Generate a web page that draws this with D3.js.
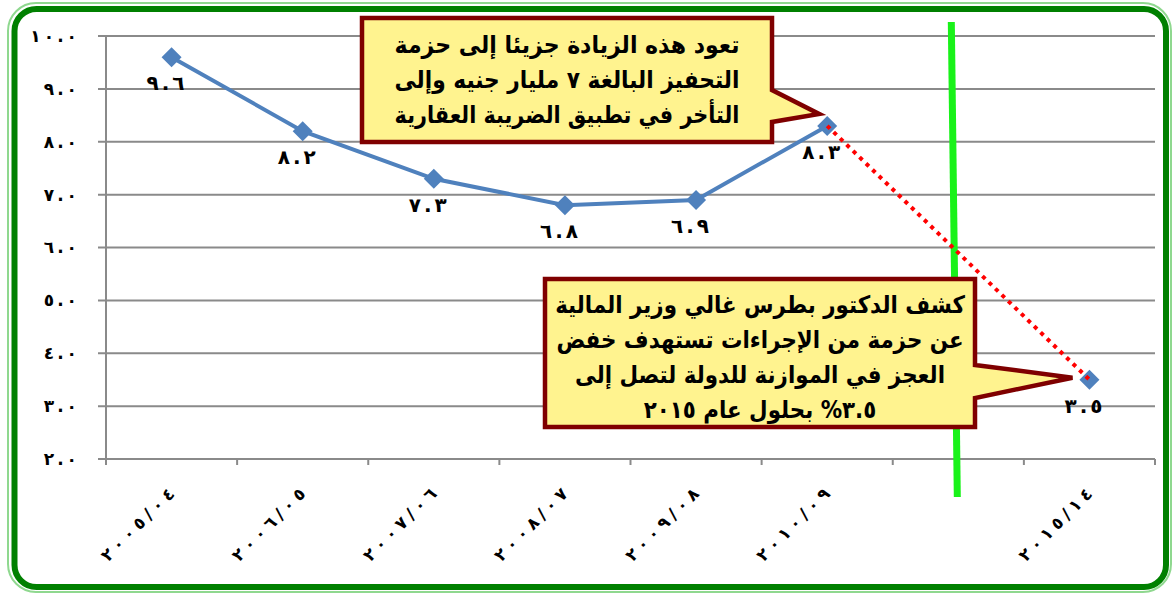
<!DOCTYPE html>
<html>
<head>
<meta charset="utf-8">
<script src="https://cdn.jsdelivr.net/npm/d3@7"></script>
<style>
  html, body { margin: 0; padding: 0; background: #fff; }
  svg { display: block; font-family: "DejaVu Sans", sans-serif; font-weight: bold; }
</style>
</head>
<body>
<svg id="chart" width="1174" height="595"></svg>
<script>
// ====
// DATA
// ====

// fiscal years, the 7th slot is an empty gap before the 2015 target
const categories = ["2005/04", "2006/05", "2007/06", "2008/07", "2009/08", "2010/09", "", "2015/14"];
const deficit = [9.6, 8.2, 7.3, 6.8, 6.9, 8.3, null, 3.5];

// dotted projection from the last actual year to the target
const projCategories = ["2010/09", "2015/14"];
const projValues = [8.3, 3.5];

const yTicks = [2, 3, 4, 5, 6, 7, 8, 9, 10];

const note1 = [
  "تعود هذه الزيادة جزيئا إلى حزمة",
  "التحفيز البالغة ٧ مليار جنيه وإلى",
  "التأخر في تطبيق الضريبة العقارية"
];
const note2 = [
  "كشف الدكتور بطرس غالي وزير المالية",
  "عن حزمة من الإجراءات تستهدف خفض",
  "العجز في الموازنة للدولة لتصل إلى",
  "٣.٥% بحلول عام ٢٠١٥"
];

// western -> arabic-indic digits
const AR = "٠١٢٣٤٥٦٧٨٩";
function ar(s) {
  return String(s).replace(/[0-9]/g, d => AR[+d]);
}

// letter-spacing is ignored for arabic digits, so spread them with dx
function spread(s, gap) {
  return Array.from(s).map((ch, i) => (i === 0 ? 0 : gap)).join(" ");
}

// =====
// SETUP
// =====

const svg = d3.select("#chart");

const x = d3.scaleBand().domain(categories).range([106, 1155]);
const y = d3.scaleLinear().domain([2, 10]).range([459, 36]);
const cx = c => x(c) + x.bandwidth() / 2;

// frame: thin light line outside, thick green inside
svg.append("rect")
  .attr("x", 8).attr("y", 3).attr("width", 1163).attr("height", 589)
  .attr("rx", 28).attr("ry", 28)
  .style("fill", "none").style("stroke", "#8fd88f").style("stroke-width", 2);
svg.append("rect")
  .attr("x", 14.5).attr("y", 9).attr("width", 1151.5).attr("height", 578)
  .attr("rx", 22).attr("ry", 22)
  .style("fill", "#fff").style("stroke", "#008000").style("stroke-width", 6);

// ===========
// GRID / AXES
// ===========

const grid = svg.append("g");
grid.selectAll("line")
  .data(yTicks)
  .enter()
  .append("line")
  .attr("x1", 98).attr("x2", 1155)
  .attr("y1", d => y(d)).attr("y2", d => y(d))
  .style("stroke", "#8a8a8a").style("stroke-width", 2);

const yAxis = svg.append("g")
  .attr("transform", "translate(106,0)")
  .call(d3.axisLeft(y).tickValues(yTicks).tickSize(0).tickPadding(29)
    .tickFormat(d => ar(d.toFixed(1))));
yAxis.select(".domain").remove();
yAxis.selectAll("text")
  .attr("dx", function () { return spread(this.textContent, 3); })
  .style("font-family", "DejaVu Sans").style("font-weight", "bold")
  .style("font-size", "17px").style("fill", "#000");

svg.append("line")
  .attr("x1", 106).attr("x2", 106)
  .attr("y1", y(10)).attr("y2", y(2) + 4)
  .style("stroke", "#8a8a8a").style("stroke-width", 2);

// x ticks sit on band boundaries
const bounds = categories.map(c => x(c)).concat([x.range()[1]]);
svg.append("g").selectAll("line")
  .data(bounds)
  .enter()
  .append("line")
  .attr("x1", d => d).attr("x2", d => d)
  .attr("y1", y(2)).attr("y2", y(2) + 6)
  .style("stroke", "#8a8a8a").style("stroke-width", 2);

svg.append("g").selectAll("text")
  .data(categories.filter(c => c !== ""))
  .enter()
  .append("text")
  .attr("transform", d => "translate(" + (cx(d) + 4) + "," + (y(2) + 36) + ") rotate(-45)")
  .attr("text-anchor", "end")
  .attr("dx", d => spread(ar(d), 4.5))
  .style("font-size", "17px")
  .text(d => ar(d));

// green divider between actuals and target
const gapX = cx("");
svg.append("line")
  .attr("x1", gapX - 7).attr("y1", y(10) - 14)
  .attr("x2", gapX - 1).attr("y2", y(2) + 38)
  .style("stroke", "#19f219").style("stroke-width", 7);

// =====
// LINES
// =====

const points = categories.map((c, i) => ({ c: c, v: deficit[i] }));

svg.append("path")
  .datum(points)
  .attr("d", d3.line().defined(d => d.v != null).x(d => cx(d.c)).y(d => y(d.v)))
  .style("fill", "none").style("stroke", "#4f81bd").style("stroke-width", 4);

svg.append("g").selectAll("path")
  .data(points.filter(d => d.v != null))
  .enter()
  .append("path")
  .attr("transform", d => "translate(" + cx(d.c) + "," + y(d.v) + ") rotate(45)")
  .attr("d", d3.symbol().type(d3.symbolSquare).size(200))
  .style("fill", "#4f81bd");

svg.append("path")
  .datum(projCategories.map((c, i) => ({ c: c, v: projValues[i] })))
  .attr("d", d3.line().x(d => cx(d.c)).y(d => y(d.v)))
  .style("fill", "none").style("stroke", "#ff0000")
  .style("stroke-width", 4).style("stroke-dasharray", "4,5");

svg.append("g").selectAll("text")
  .data(points.filter(d => d.v != null))
  .enter()
  .append("text")
  .attr("x", d => cx(d.c) - 6)
  .attr("y", d => y(d.v) + 33)
  .attr("text-anchor", "middle")
  .attr("dx", d => spread(ar(d.v.toFixed(1)), 3))
  .style("font-size", "20px")
  .text(d => ar(d.v.toFixed(1)));

// ========
// CALLOUTS
// ========

function callout(lines, box, tip, base, fitWidth, lineGap, firstLine, justify) {
  const g = svg.append("g");
  const [x0, y0, x1, y1] = box;
  const mid = (x0 + x1) / 2;
  g.append("path")
    .attr("d", "M" + x0 + "," + y0 + "H" + x1 + "V" + base[0] +
      "L" + tip[0] + "," + tip[1] + "L" + x1 + "," + base[1] +
      "V" + y1 + "H" + x0 + "Z")
    .style("fill", "#fff38f").style("stroke", "#7f0000")
    .style("stroke-width", 4.5).style("stroke-linejoin", "miter");

  const rows = lines.map(function (line, i) {
    const t = g.append("text")
      .attr("text-anchor", "middle")
      .style("direction", "rtl")
      .style("font-size", "24px")
      .text(line);
    return { t: t, w: t.node().getComputedTextLength(), y: firstLine + i * lineGap };
  });

  // squeeze horizontally so the text fills the box like the original
  const widest = d3.max(rows, r => r.w);
  rows.forEach(function (r) {
    const sx = fitWidth / (justify ? r.w : widest);
    r.t.attr("transform", "translate(" + mid + "," + r.y + ") scale(" + sx + ",1)");
  });
}

const p83 = [cx("2010/09"), y(8.3)];
const p35 = [cx("2015/14"), y(3.5)];

callout(note1, [362, 18, 772, 142], [p83[0] - 8, p83[1] - 12], [90, 122], 345, 35, 53, true);
callout(note2, [545, 279, 975, 427], [p35[0] - 17, p35[1] - 2], [365, 398], 410, 35, 313, false);
</script>
</body>
</html>
